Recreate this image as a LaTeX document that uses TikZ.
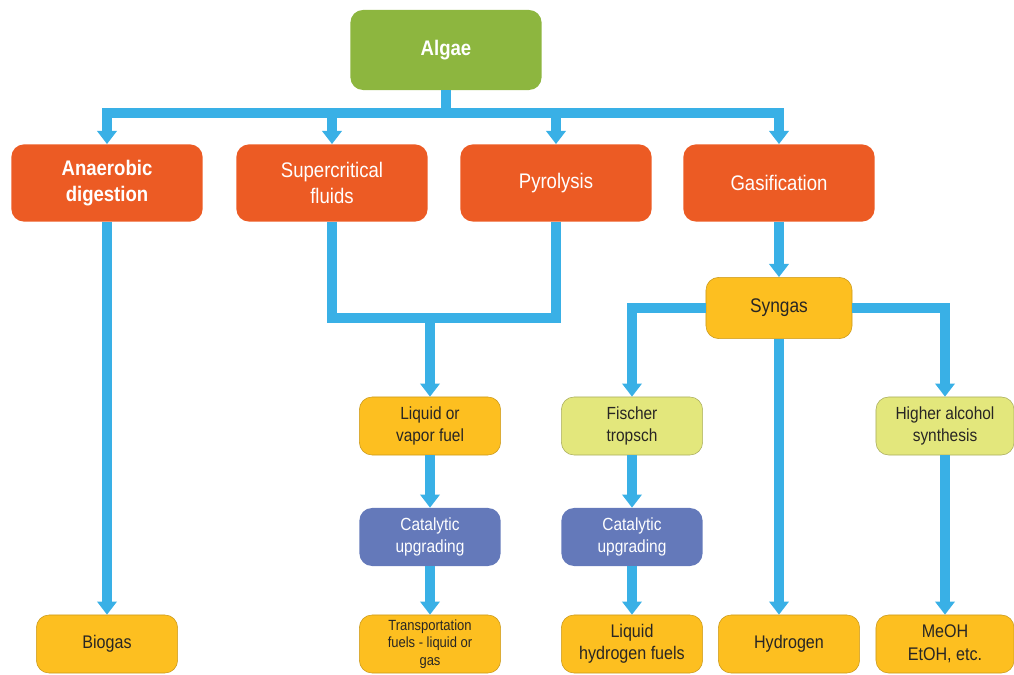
\documentclass[tikz,border=0pt]{standalone}
\usepackage{fontspec}
\setmainfont{Liberation Sans}[FakeStretch=0.88]
\usetikzlibrary{arrows.meta,positioning}

\definecolor{algaegreen}{RGB}{141,182,63}
\definecolor{procorange}{RGB}{236,91,36}
\definecolor{fuelyellow}{RGB}{253,191,32}
\definecolor{synthlime}{RGB}{227,231,124}
\definecolor{catblue}{RGB}{100,121,186}
\definecolor{pipeblue}{RGB}{57,176,230}
\definecolor{inkdark}{RGB}{40,38,36}

\begin{document}
\begin{tikzpicture}[x=0.025cm, y=-0.025cm,
  card/.style={rounded corners=9pt, align=center, inner sep=0pt},
  bigcard/.style={card, minimum width=4.78cm, minimum height=1.93cm, fill=procorange, text=white, font=\fontsize{15}{18.5}\selectfont},
  smallcard/.style={card, minimum width=3.53cm, minimum height=1.45cm, text=inkdark, font=\fontsize{12.5}{16}\selectfont},
  fuel/.style={smallcard, fill=fuelyellow, draw=fuelyellow!80!black, line width=.4pt},
  synth/.style={smallcard, fill=synthlime, draw=synthlime!75!black, line width=.4pt},
  upgrade/.style={smallcard, fill=catblue, text=white},
  pipe/.style={pipeblue, line width=0.25cm, line join=miter},
  flow/.style={pipe, -{Triangle[width=0.48cm,length=0.33cm]}}]
\useasboundingbox (0,0) rectangle (1014,675);

\node[card, minimum width=4.78cm, minimum height=2cm, fill=algaegreen, text=white, font=\bfseries\fontsize{15}{18}\selectfont] (algae) at (446,50) {Algae};

\node[bigcard, font=\bfseries\fontsize{15}{18.5}\selectfont] (anaerobic) at (107,183) {Anaerobic\\digestion};
\node[bigcard] (supercrit) at (332,183) {Supercritical\\fluids};
\node[bigcard] (pyrolysis) at (556,183) {Pyrolysis};
\node[bigcard] (gasif) at (779,183) {Gasification};

\node[fuel, minimum width=3.65cm, minimum height=1.53cm, font=\fontsize{14}{17}\selectfont] (syngas) at (779,308) {Syngas};

\node[fuel] (liquid) at (430,426) {Liquid or\\vapor fuel};
\node[upgrade] (catliq) at (430,537) {Catalytic\\upgrading};
\node[fuel, font=\fontsize{10.5}{12.5}\selectfont] (transport) at (430,644) {Transportation\\fuels - liquid or\\gas};

\node[synth] (fischer) at (632,426) {Fischer\\tropsch};
\node[upgrade] (catfis) at (632,537) {Catalytic\\upgrading};
\node[fuel, font=\fontsize{13}{16}\selectfont] (liqhyd) at (632,644) {Liquid\\hydrogen fuels};

\node[synth, minimum width=3.45cm] (higher) at (945,426) {Higher alcohol\\synthesis};
\node[fuel, minimum width=3.45cm, font=\fontsize{13}{16}\selectfont] (meoh) at (945,644) {MeOH\\EtOH, etc.};
\node[fuel, font=\fontsize{13}{16}\selectfont] (hydrogen) at (789,644) {Hydrogen};
\node[fuel, font=\fontsize{13}{16}\selectfont] (biogas) at (107,644) {Biogas};

% pipes
\coordinate (split) at (446,113);
\coordinate (merge) at (430,318);
\draw[pipe] (algae.south) -- (split);
\draw[flow] (split) -| (anaerobic.north);
\draw[flow] (split) -| (supercrit.north);
\draw[flow] (split) -| (pyrolysis.north);
\draw[flow] (split) -| (gasif.north);

\draw[flow] (anaerobic) -- (biogas);
\draw[pipe] (supercrit.south) |- (merge) -| (pyrolysis.south);
\draw[flow] (merge) -- (liquid.north);
\draw[flow] (liquid) -- (catliq);
\draw[flow] (catliq) -- (transport);

\draw[flow] (gasif) -- (syngas);
\draw[flow] (syngas.west) -| (fischer.north);
\draw[flow] (syngas.east) -| (higher.north);
\draw[flow] (syngas.south) -- (syngas.south |- hydrogen.north);
\draw[flow] (fischer) -- (catfis);
\draw[flow] (catfis) -- (liqhyd);
\draw[flow] (higher) -- (meoh);
\end{tikzpicture}
\end{document}
